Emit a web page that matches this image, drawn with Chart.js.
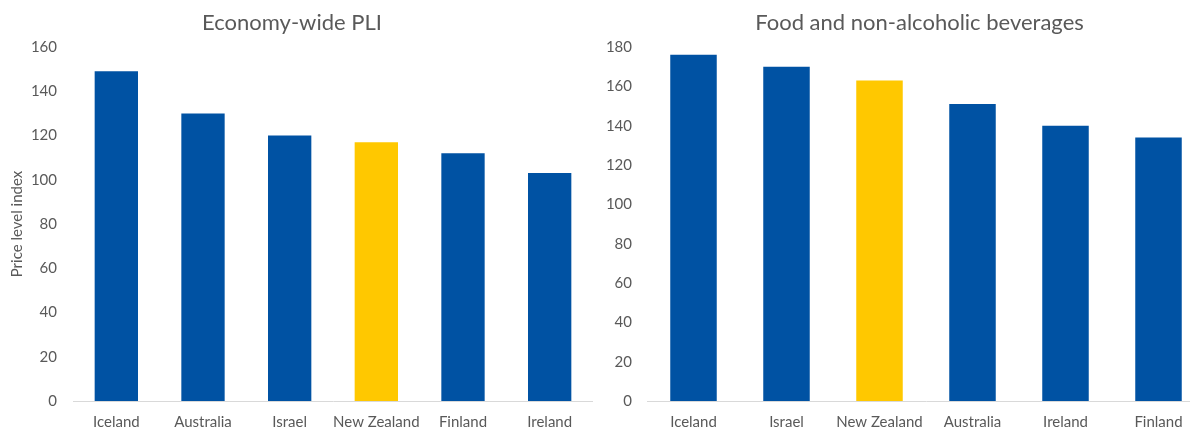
<!DOCTYPE html>
<html>
<head>
<meta charset="utf-8">
<script src="https://cdn.jsdelivr.net/npm/chart.js@4/dist/chart.umd.min.js"></script>
<style>
  html, body { margin: 0; padding: 0; background: #fff; overflow: hidden; width: 1190px; height: 430px; }
  canvas { position: absolute; top: 0; }
  #pli { left: -9px; }
  #food { left: 600px; }
</style>
</head>
<body>
<canvas id="pli" width="602" height="430"></canvas>
<canvas id="food" width="640" height="430"></canvas>
<script>
// Price level indices, OECD = 100
const pliCountries = ['Iceland', 'Australia', 'Israel', 'New Zealand', 'Finland', 'Ireland'];
const pliValues = [149, 130, 120, 117, 112, 103];

const foodCountries = ['Iceland', 'Israel', 'New Zealand', 'Australia', 'Ireland', 'Finland'];
const foodValues = [176, 170, 163, 151, 140, 134];

const pliTicksMax = 160;
const foodTicksMax = 180;
const tickStep = 20;

const highlighted = 'New Zealand';
const BLUE = '#0052A3';
const GOLD = '#FFC800';
const TEXT = '#595959';
const FONT = 'Lato, "Open Sans", sans-serif';

// Shifts the title block sideways after layout
const titleNudge = {
  id: 'titleNudge',
  afterLayout(chart, args, opts) {
    const t = chart.titleBlock;
    if (t && opts.x) { t.left += opts.x; t.right += opts.x; }
  }
};

function barColours(countries) {
  return countries.map(c => (c === highlighted ? GOLD : BLUE));
}

function makeChart(id, title, countries, values, maxY, opts) {
  return new Chart(document.getElementById(id), {
    type: 'bar',
    plugins: [titleNudge],
    data: {
      labels: countries,
      datasets: [{
        data: values,
        backgroundColor: barColours(countries),
        borderWidth: 0,
        barPercentage: 1,
        categoryPercentage: 0.5
      }]
    },
    options: {
      responsive: false,
      animation: false,
      devicePixelRatio: 1,
      layout: { padding: { left: 0, right: opts.rightPad, top: 0, bottom: 0 } },
      plugins: {
        legend: { display: false },
        tooltip: { enabled: false },
        titleNudge: { x: opts.titleShift },
        title: {
          display: true,
          text: title,
          color: TEXT,
          font: { family: FONT, size: 22, weight: 'normal' },
          padding: { top: 10, bottom: 10.6 }
        }
      },
      scales: {
        x: {
          grid: { display: false, drawTicks: false },
          border: { display: true, color: '#D9D9D9', width: 1 },
          ticks: { color: TEXT, font: { family: FONT, size: 15 }, padding: 12, maxRotation: 0, autoSkip: false },
          afterFit: s => { s.height = 29; }
        },
        y: {
          min: 0,
          max: maxY,
          grid: { display: false, drawTicks: false },
          border: { display: false },
          ticks: { stepSize: tickStep, color: TEXT, font: { family: FONT, size: 15 }, padding: opts.tickPad },
          title: opts.yTitle ? {
            display: true,
            text: opts.yTitle,
            color: TEXT,
            font: { family: FONT, size: 15 },
            padding: { top: 17, bottom: 0 }
          } : { display: false },
          afterFit: s => { s.width = opts.axisWidth; }
        }
      }
    }
  });
}

makeChart('pli', 'Economy-wide PLI', pliCountries, pliValues, pliTicksMax,
  { axisWidth: 82, tickPad: 16, rightPad: 0, titleShift: 0, yTitle: 'Price level index' });
makeChart('food', 'Food and non-alcoholic beverages', foodCountries, foodValues, foodTicksMax,
  { axisWidth: 47, tickPad: 15, rightPad: 35, titleShift: 17 });
</script>
</body>
</html>
